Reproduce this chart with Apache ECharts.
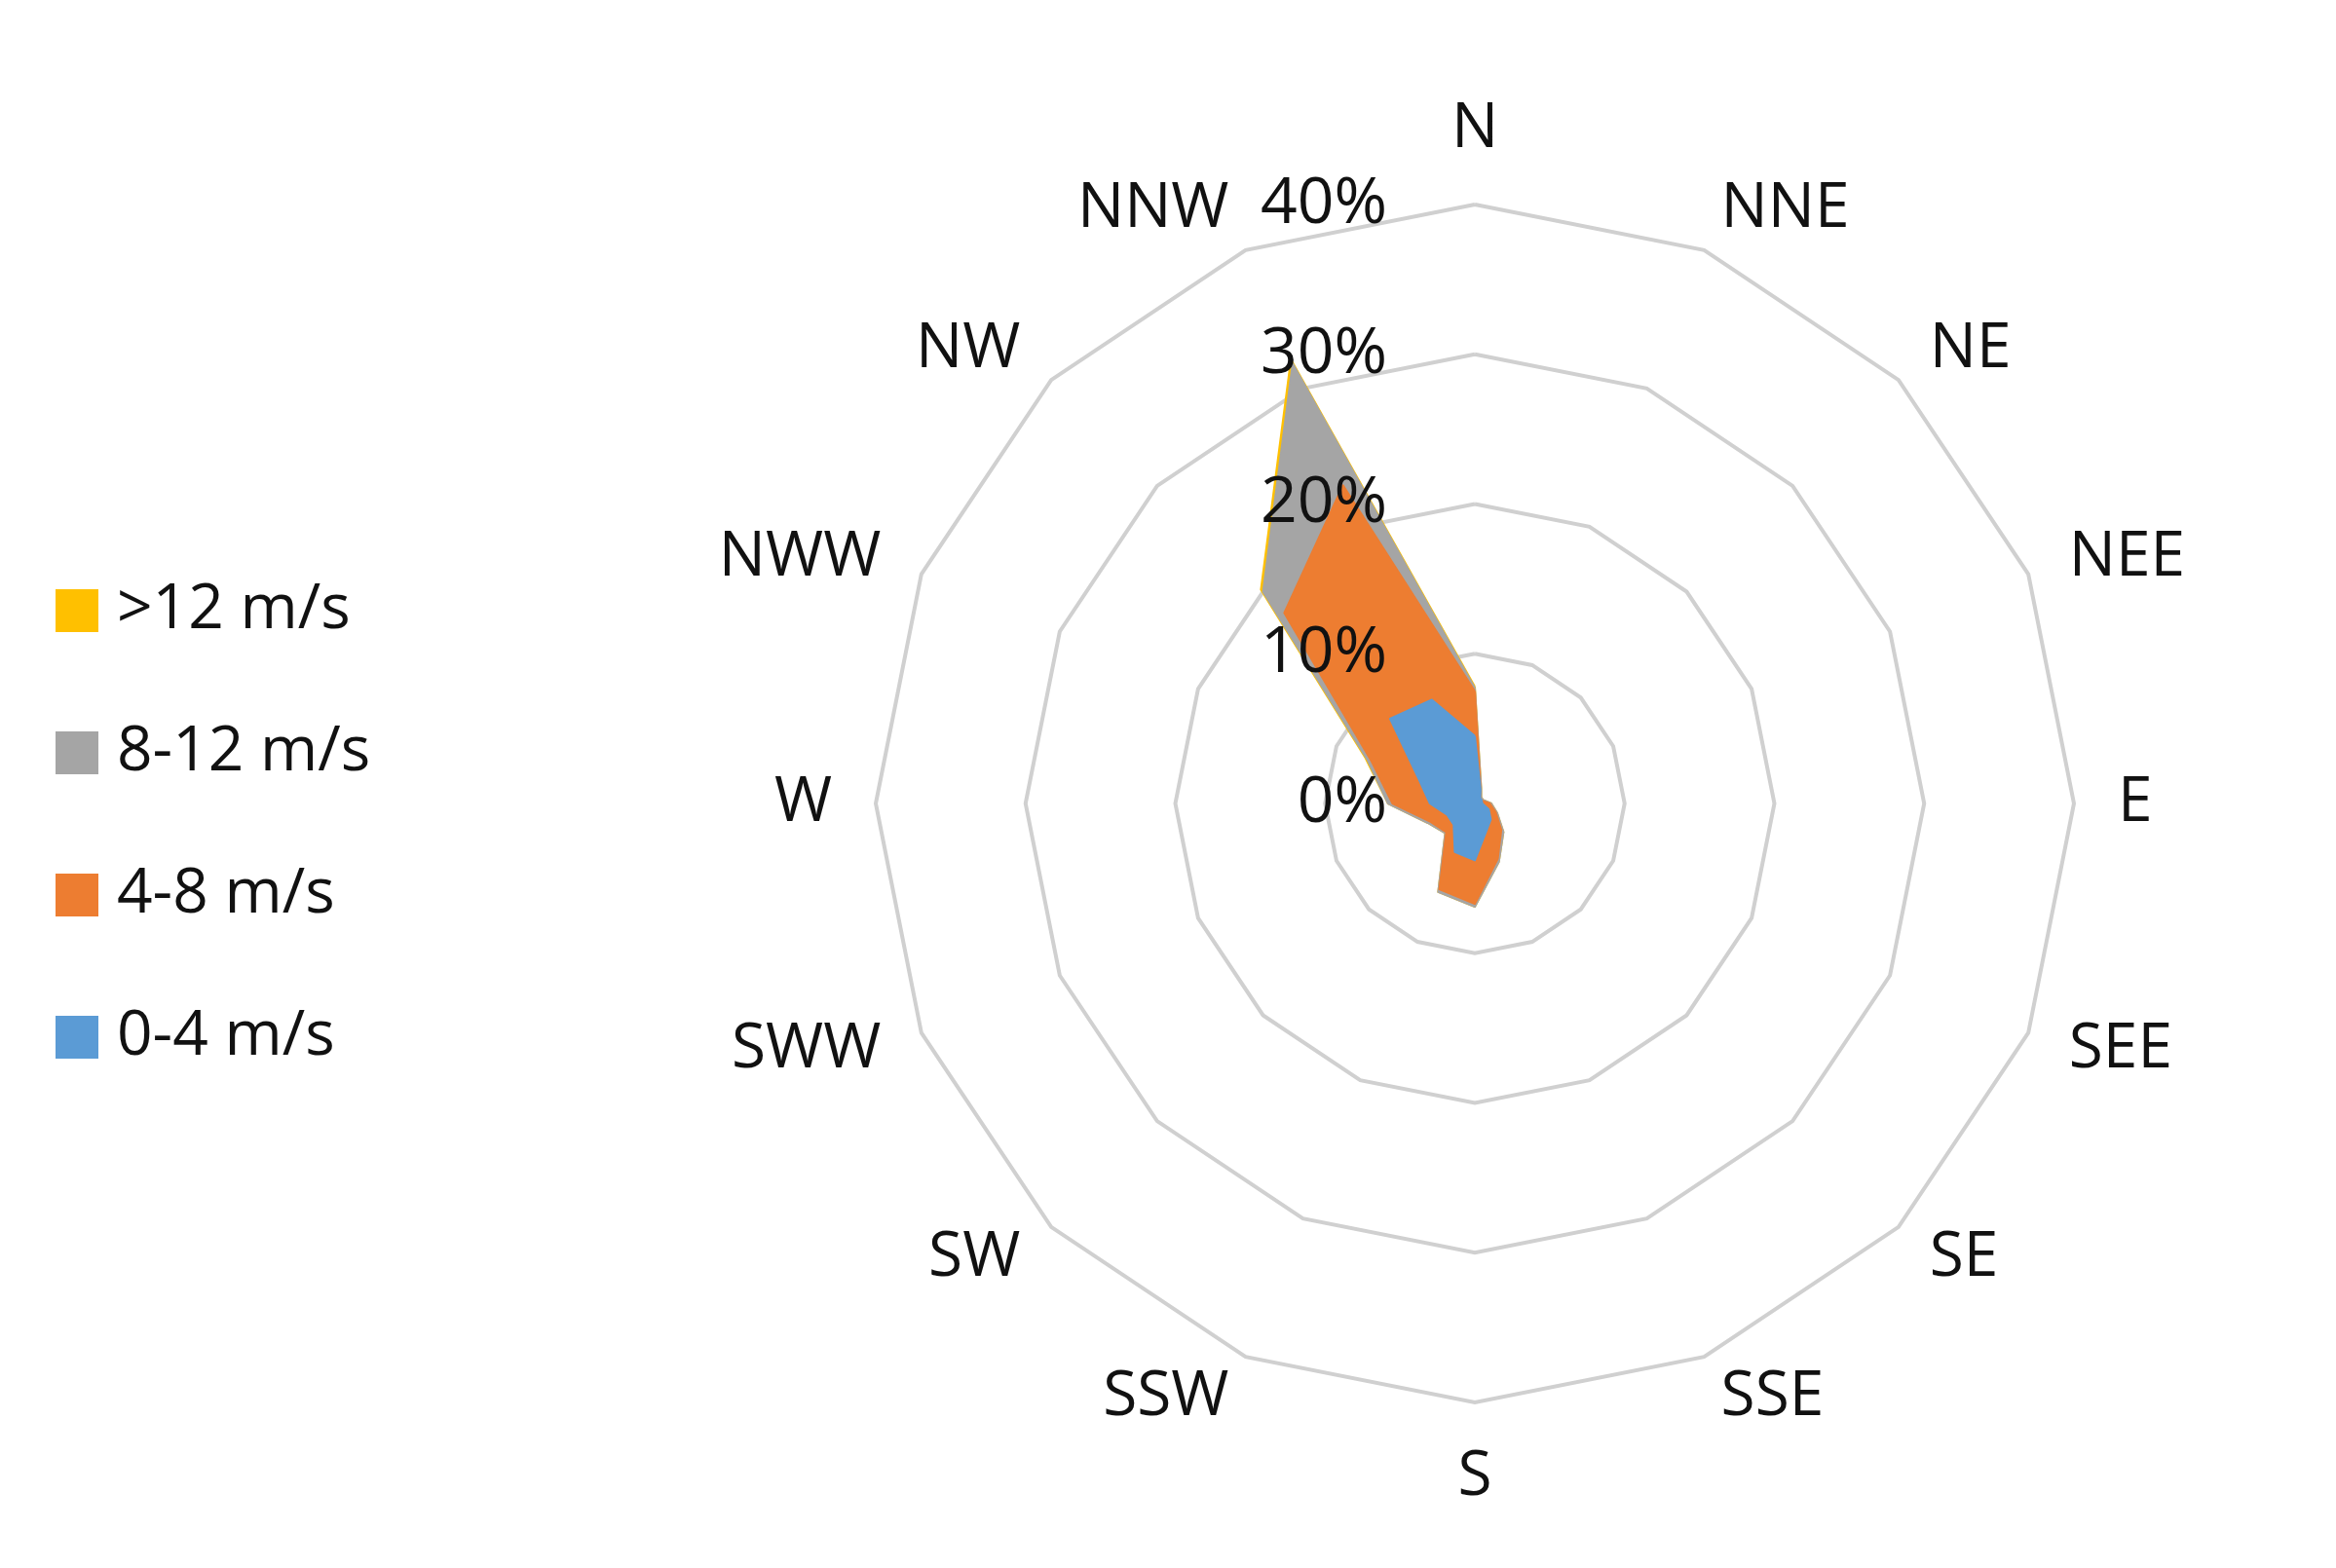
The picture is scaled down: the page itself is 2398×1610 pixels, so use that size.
<!DOCTYPE html>
<html>
<head>
<meta charset="utf-8">
<script src="https://cdn.jsdelivr.net/npm/echarts@6/dist/echarts.min.js"></script>
<style>html,body{margin:0;background:#fff}#c{width:2398px;height:1610px}</style>
</head>
<body>
<div id="c"></div>
<script>
// directions, listed counter-clockwise from N (radar default direction)
const directions = ['N','NNW','NW','NWW','W','SWW','SW','SSW','S','SSE','SE','SEE','E','NEE','NE','NNE'];
const speed0to4  = [4.5, 7.5, 8, 4, 3, 2, 2, 3.5, 3.8, 2, 1.5, 1, 0.5, 0.5, 0.5, 1];
const speed4to8  = [3, 15.5, 10, 3.5, 2.5, 1.2, 0.7, 2.7, 2.9, 2, 1, 0.5, 0.5, 0, 0, 0];
const speed8to12 = [0.2, 8.8, 2, 0.3, 0.3, 0.2, 0.1, 0.2, 0.2, 0.2, 0.2, 0.1, 0.1, 0.1, 0.1, 0.1];
const speedOver12 = [0.1, 0.3, 0.2, 0.1, 0, 0, 0, 0, 0, 0, 0, 0, 0, 0, 0, 0];
const ticks = ['0%','10%','20%','30%','40%'];

const classes = [
    { name: '0-4 m/s', vals: speed0to4, color: '#5b9bd5' },
    { name: '4-8 m/s', vals: speed4to8, color: '#ed7d31' },
    { name: '8-12 m/s', vals: speed8to12, color: '#a5a5a5' },
    { name: '>12 m/s', vals: speedOver12, color: '#ffc000' }
];
// stacked (cumulative) outlines
let acc = directions.map(() => 0);
classes.forEach(c => {
    acc = acc.map((a, i) => a + c.vals[i]);
    c.cum = acc.slice();
});

const chart = echarts.init(document.getElementById('c'));
const font = 'Open Sans, Noto Sans, sans-serif';
chart.setOption({
    animation: false,
    legend: {
        orient: 'vertical', left: 52, top: 590, itemGap: 82,
        itemWidth: 44, itemHeight: 44, icon: 'rect',
        textStyle: { fontSize: 64, fontFamily: font, color: '#111', padding: [0, 0, 0, 14] },
        data: ['>12 m/s', '8-12 m/s', '4-8 m/s', '0-4 m/s']
    },
    radar: {
        center: [1514, 825], radius: 615,
        shape: 'polygon', splitNumber: 4,
        indicator: directions.map(d => ({ name: d, min: 0, max: 40 })),
        axisName: { color: '#111', fontSize: 64, fontFamily: font },
        nameGap: 45,
        axisLine: { show: false },
        axisTick: { show: false },
        splitArea: { show: false },
        splitLine: { lineStyle: { color: '#d0d0d0', width: 4 } }
    },
    polar: { center: [1514, 825], radius: 615 },
    angleAxis: { show: false, startAngle: 90, min: 0, max: 360 },
    radiusAxis: {
        min: 0, max: 40, interval: 10,
        axisLine: { show: false }, axisTick: { show: false }, splitLine: { show: false },
        axisLabel: { formatter: v => ticks[v / 10], fontSize: 66, fontFamily: font, color: '#111', margin: 90, align: 'right' },
        z: 10
    },
    series: classes.slice().reverse().map(c => ({
        type: 'radar', name: c.name, symbol: 'none',
        lineStyle: { color: c.color, width: 2 },
        itemStyle: { color: c.color },
        areaStyle: { color: c.color, opacity: 1 },
        data: [{ value: c.cum, name: c.name }]
    }))
});
</script>
</body>
</html>
